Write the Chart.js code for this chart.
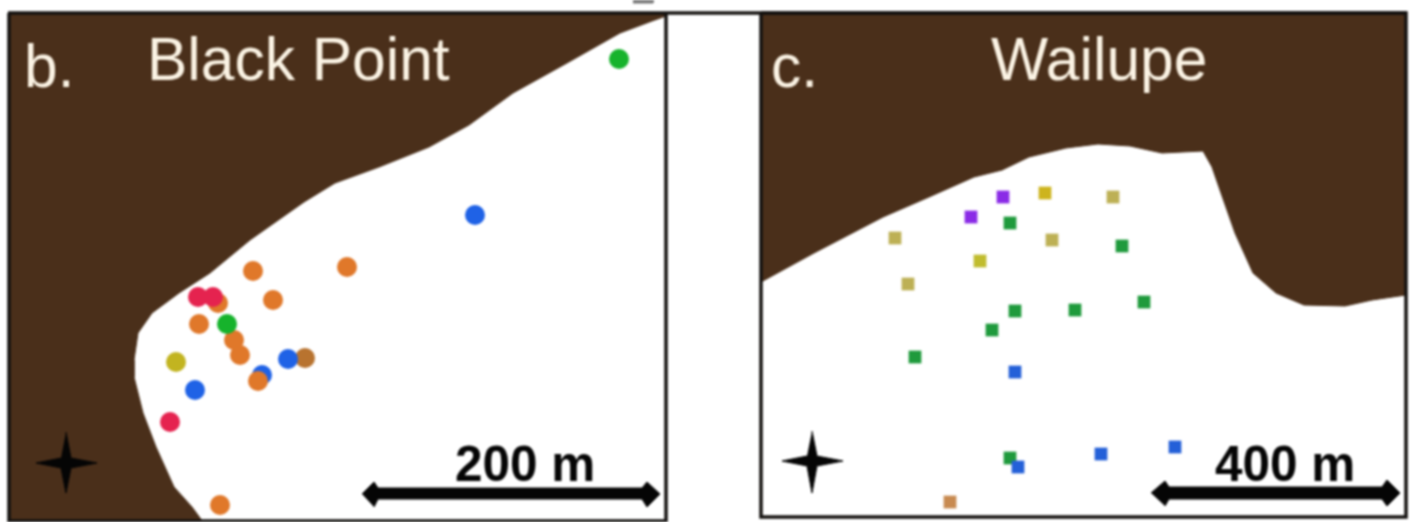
<!DOCTYPE html>
<html>
<head>
<meta charset="utf-8">
<title>Black Point and Wailupe</title>
<style>
  html, body { margin: 0; padding: 0; background: #fff; }
  canvas { display: block; filter: blur(0.9px); }
</style>
<script src="https://cdn.jsdelivr.net/npm/chart.js@4"></script>
</head>
<body>
<canvas id="mapChart" width="1417" height="522"></canvas>
<script>
// Map positions, in picture units (x, y)

// b. Black Point
const blackPointLand = [[666, 13], [666, 16], [652, 21], [620, 33], [567, 63], [513, 93], [469, 125], [429, 147], [379, 167], [335, 183], [304, 202], [250, 240], [210, 273], [179, 293], [152, 313], [138, 333], [134, 360], [134, 377], [143, 413], [156, 447], [174, 487], [192, 507], [203, 522], [9, 522], [9, 13]];
const blackPointOrangeBack = [[305, 358]];
const blackPointBlue = [[475, 215], [288, 359], [262, 375], [195, 390]];
const blackPointOrange = [[347, 267], [253, 271], [273, 300], [218, 303], [199, 324], [234, 340], [240, 355], [258, 381], [220, 505]];
const blackPointRed = [[198, 297], [213, 297], [170, 422]];
const blackPointGreen = [[619, 59], [227, 324]];
const blackPointOlive = [[176, 362]];

// c. Wailupe
const wailupeLand = [[761, 282], [814, 253], [883, 217], [929, 197], [974, 177], [1002, 170], [1029, 157], [1066, 148], [1098, 144], [1130, 146], [1162, 153], [1203, 151], [1212, 167], [1221, 193], [1235, 233], [1253, 273], [1276, 293], [1304, 305], [1345, 306], [1372, 300], [1406, 295], [1406, 13], [761, 13]];
const wailupePurple = [[1003, 197], [971, 217]];
const wailupeYellow = [[1045, 193]];
const wailupeTan = [[1113, 197], [895, 238], [1052, 240], [908, 284]];
const wailupeLime = [[980, 261]];
const wailupeGreen = [[1010, 223], [1122, 246], [1144, 302], [1075, 310], [1015, 311], [992, 330], [915, 357], [1010, 458]];
const wailupeBlue = [[1015, 372], [1018, 467], [1101, 454], [1175, 447]];
const wailupeBrown = [[950, 502]];

// Compass stars and scale bars
const blackPointStar = [[66, 432], [71, 458], [97, 463], [71, 468], [66, 493], [61, 468], [36, 463], [61, 458]];
const wailupeStar = [[812, 431], [817, 456], [843, 461], [817, 466], [812, 493], [807, 466], [782, 461], [807, 456]];
const blackPointBar = [[362, 494], [374, 482], [378, 488], [642, 488], [647, 482], [660, 494], [647, 507], [642, 499], [378, 499], [374, 507]];
const wailupeBar = [[1151, 493], [1165, 481], [1169, 487], [1382, 487], [1387, 480], [1400, 493], [1387, 506], [1382, 499], [1169, 499], [1165, 506]];
const cutOffMark = [[633, 0], [653, 0], [653, 3], [633, 3]];

// Panel frames
const frameTop = [[8, 13], [1407, 13]];
const frameLeftB = [[9, 13], [9, 522]];
const frameRightB = [[666, 13], [666, 522]];
const frameBottomB = [[9, 521], [666, 521]];
const frameC = [[761, 13], [1406, 13], [1406, 517], [761, 517], [761, 13]];

// Labels
const labelTexts = ['b.', 'Black Point', 'c.', 'Wailupe', '200 m', '400 m'];
const labelX = [24, 147, 771, 991, 455, 1215];
const labelY = [87, 80, 87, 80, 481, 481];

const xy = list => list.map(p => ({ x: p[0], y: p[1] }));

function shape(list, color) {
    return { data: xy(list), showLine: true, fill: 'shape', backgroundColor: color, borderColor: color, borderWidth: 1, pointRadius: 0, tension: 0 };
}
function frame(list) {
    return { data: xy(list), showLine: true, fill: false, borderColor: '#141210', borderWidth: 3.5, pointRadius: 0 };
}
function dots(list, color) {
    return { data: xy(list), pointStyle: 'circle', pointRadius: 10, pointBorderWidth: 0, backgroundColor: color };
}
function squares(list, color) {
    return { data: xy(list), pointStyle: 'rect', pointRadius: 9, pointBorderWidth: 0, backgroundColor: color };
}

const BROWN = '#4a2f1a';
const BLACK = '#050505';

// Listed bottom layer first; order is set below so later entries draw on top
const layers = [
    shape(blackPointLand, BROWN),
    shape(wailupeLand, BROWN),
    frame(frameTop),
    frame(frameLeftB),
    frame(frameRightB),
    frame(frameBottomB),
    frame(frameC),
    shape(blackPointStar, BLACK),
    shape(wailupeStar, BLACK),
    shape(blackPointBar, BLACK),
    shape(wailupeBar, BLACK),
    shape(cutOffMark, '#777777'),
    dots(blackPointOrangeBack, '#b8732f'),
    dots(blackPointBlue, '#1f62e6'),
    dots(blackPointOrange, '#e0782a'),
    dots(blackPointRed, '#e5234f'),
    dots(blackPointGreen, '#16b32c'),
    dots(blackPointOlive, '#c2b420'),
    squares(wailupePurple, '#8a2be6'),
    squares(wailupeYellow, '#cdb41e'),
    squares(wailupeTan, '#bdb055'),
    squares(wailupeLime, '#c0bc2e'),
    squares(wailupeGreen, '#1f9a3c'),
    squares(wailupeBlue, '#2460d8'),
    squares(wailupeBrown, '#c88a50')
];
layers.forEach((d, i) => { d.order = layers.length - i; });

// Panel names and scale bar labels, placed through the scales
const mapLabels = {
    id: 'mapLabels',
    afterDatasetsDraw(chart) {
        const { ctx, scales } = chart;
        ctx.save();
        ctx.textBaseline = 'alphabetic';
        labelTexts.forEach((text, i) => {
            const isScale = i >= 4;
            ctx.font = isScale ? 'bold 49.5px "Liberation Sans"' : '60.5px "Liberation Sans"';
            ctx.fillStyle = isScale ? '#050505' : '#fbf3e4';
            ctx.fillText(text, scales.x.getPixelForValue(labelX[i]), scales.y.getPixelForValue(labelY[i]));
        });
        ctx.restore();
    }
};

new Chart(document.getElementById('mapChart').getContext('2d'), {
    type: 'scatter',
    data: { datasets: layers },
    options: {
        responsive: false,
        animation: false,
        layout: { padding: 0, autoPadding: false },
        plugins: { legend: { display: false }, tooltip: { enabled: false } },
        events: [],
        scales: {
            x: { type: 'linear', min: 0, max: 1417, display: false },
            y: { type: 'linear', min: 0, max: 522, reverse: true, display: false }
        }
    },
    plugins: [mapLabels]
});
</script>
</body>
</html>
